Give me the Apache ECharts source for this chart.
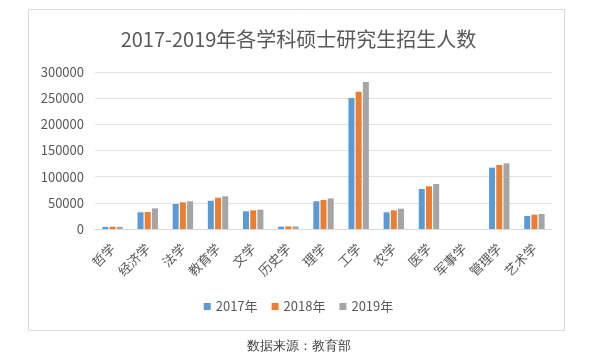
<!DOCTYPE html>
<html><head><meta charset="utf-8">
<script src="https://cdn.jsdelivr.net/npm/echarts@6/dist/echarts.min.js"></script>
<style>html,body{margin:0;padding:0;background:#fff}#c{width:597px;height:363px}</style>
</head><body><div id="c"></div>
<script>
const categories = ['哲学','经济学','法学','教育学','文学','历史学','理学','工学','农学','医学','军事学','管理学','艺术学'];
const v2017 = [4000, 31900, 47800, 54000, 33800, 4500, 53000, 250300, 31900, 76400, 0, 117200, 24800];
const v2018 = [4500, 32500, 51000, 59800, 35700, 5000, 55400, 262400, 35700, 81600, 0, 122300, 27300];
const v2019 = [4200, 39500, 53000, 62500, 36900, 5000, 58600, 280900, 38800, 86000, 0, 125500, 28700];
const seriesNames = ['2017年','2018年','2019年'];
const colors = ['#5B9BD5','#ED7D31','#A5A5A5'];
const titleText = '2017-2019年各学科硕士研究生招生人数';
const sourceText = '数据来源：教育部';

const font = '"Noto Sans CJK SC", "Noto Sans", sans-serif';
const chart = echarts.init(document.getElementById('c'));
const mk = (name, data, i) => ({
  name, type: 'bar', data, barWidth: 6, barGap: '20%',
  itemStyle: {color: colors[i]}
});
chart.setOption({
  animation: false,
  textStyle: {fontFamily: font},
  title: {
    text: titleText, left: 'center', top: 24,
    textStyle: {fontSize: 20, fontWeight: 'normal', color: '#595959', fontFamily: font}
  },
  legend: {
    data: seriesNames, bottom: 45, left: 'center',
    itemWidth: 7, itemHeight: 7, itemGap: 14, icon: 'rect',
    textStyle: {fontSize: 13, color: '#595959', fontFamily: font}
  },
  grid: {left: 95, right: 45, top: 72, bottom: 134},
  xAxis: {
    type: 'category', data: categories,
    axisLine: {lineStyle: {color: '#d9d9d9'}},
    axisTick: {show: false},
    axisLabel: {rotate: 45, interval: 0, fontSize: 13, color: '#595959', margin: 17, fontFamily: font}
  },
  yAxis: {
    type: 'value', min: 0, max: 300000, interval: 50000,
    axisLine: {show: false}, axisTick: {show: false},
    splitLine: {lineStyle: {color: '#e3e3e3'}},
    axisLabel: {fontSize: 13, color: '#595959', margin: 11, fontFamily: font, formatter: v => String(v)}
  },
  series: [mk(seriesNames[0], v2017, 0), mk(seriesNames[1], v2018, 1), mk(seriesNames[2], v2019, 2)],
  graphic: [
    {type: 'rect', shape: {x: 28.5, y: 9.5, width: 536, height: 321}, style: {fill: 'none', stroke: '#d9d9d9', lineWidth: 1}, silent: true, z: -1},
    {type: 'text', left: 'center', top: 340, style: {text: sourceText, fontSize: 13, fill: '#404040', font: '13px ' + font}}
  ]
});
</script></body></html>
